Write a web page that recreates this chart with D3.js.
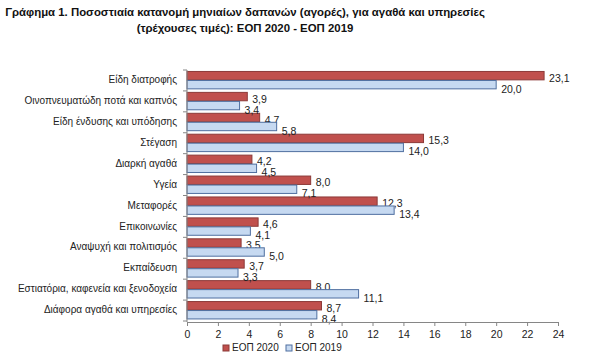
<!DOCTYPE html>
<html><head><meta charset="utf-8">
<script src="https://cdn.jsdelivr.net/npm/d3@7"></script>
<style>body{margin:0;background:#fff}svg{display:block;font-family:"Liberation Sans",Arial,sans-serif}</style>
</head><body>
<svg id="c" width="600" height="360"></svg>
<script>
const categories = ["Είδη διατροφής","Οινοπνευματώδη ποτά και καπνός","Είδη ένδυσης και υπόδησης","Στέγαση","Διαρκή αγαθά","Υγεία","Μεταφορές","Επικοινωνίες","Αναψυχή και πολιτισμός","Εκπαίδευση","Εστιατόρια, καφενεία  και ξενοδοχεία","Διάφορα αγαθά και υπηρεσίες"];
const seriesNames = ["ΕΟΠ 2020","ΕΟΠ 2019"];
const values2020 = [23.1,3.9,4.7,15.3,4.2,8.0,12.3,4.6,3.5,3.7,8.0,8.7];
const values2019 = [20.0,3.4,5.8,14.0,4.5,7.1,13.4,4.1,5.0,3.3,11.1,8.4];
const xTicks = [0,2,4,6,8,10,12,14,16,18,20,22,24];
const titleLines = ["Γράφημα 1. Ποσοστιαία κατανομή μηνιαίων δαπανών (αγορές), για αγαθά και υπηρεσίες","(τρέχουσες τιμές): ΕΟΠ 2020 - ΕΟΠ 2019"];

const fills = ["#C0504D","#C6D9F1"];
const strokes = ["#8C3A38","#4F6FA0"];
const svg = d3.select("#c");
const m = {left:187,right:558,top:70,bottom:321};
const x = d3.scaleLinear().domain([0,24]).range([m.left,m.right]);
const y = d3.scaleBand().domain(categories).range([m.top,m.bottom]).paddingInner(0.14).paddingOuter(0.07);
const yBand = d3.scaleBand().domain(seriesNames).range([0,y.bandwidth()]);

svg.selectAll("text.title").data(titleLines).join("text").attr("class","title")
  .attr("x",245).attr("y",(d,i)=>16+i*16).attr("text-anchor","middle")
  .attr("font-size",11.4).attr("font-weight","bold").attr("fill","#111").text(d=>d);

const series = [values2020, values2019];
series.forEach((vals,si)=>{
  const g = svg.append("g");
  g.selectAll("rect").data(vals).join("rect")
    .attr("x",x(0)).attr("y",(d,i)=>y(categories[i])+yBand(seriesNames[si]))
    .attr("width",d=>x(d)-x(0)).attr("height",yBand.bandwidth()-0.6)
    .attr("fill",fills[si]).attr("stroke",strokes[si]).attr("stroke-width",1);
  g.selectAll("text").data(vals).join("text")
    .attr("x",d=>x(d)+5)
    .attr("y",(d,i)=>y(categories[i])+yBand(seriesNames[si])+yBand.bandwidth()/2+ (si===0?3:5))
    .attr("font-size",10.5).attr("fill","#222").attr("dominant-baseline","middle")
    .text(d=>d3.format(".1f")(d).replace(".",","));
});

// y axis
const yAxisG = svg.append("g");
yAxisG.append("line").attr("x1",m.left).attr("x2",m.left).attr("y1",m.top).attr("y2",m.bottom+1).attr("stroke","#868686");
const bounds = categories.map(c=>y(c)-y.step()*y.paddingInner()/2).concat([m.bottom]);
yAxisG.selectAll("line.t").data(bounds).join("line").attr("class","t")
  .attr("x1",m.left-4).attr("x2",m.left).attr("y1",d=>d).attr("y2",d=>d).attr("stroke","#868686");
yAxisG.selectAll("text").data(categories).join("text")
  .attr("x",177).attr("y",d=>y(d)+y.bandwidth()/2).attr("dominant-baseline","middle")
  .attr("text-anchor","end").attr("font-size",10).attr("fill","#222").text(d=>d);

// x axis
const xAxis = d3.axisBottom(x).tickValues(xTicks).tickSize(4).tickPadding(5).tickFormat(d3.format("d"));
const xg = svg.append("g").attr("transform",`translate(0,${m.bottom+1})`).call(xAxis);
xg.select(".domain").attr("stroke","#868686");
xg.selectAll(".tick line").attr("stroke","#868686");
xg.selectAll(".tick text").attr("font-size",10.5).attr("fill","#222").attr("font-family","Liberation Sans, Arial");

// legend
const lg = svg.append("g");
const lx = [223,286];
seriesNames.forEach((s,i)=>{
  lg.append("rect").attr("x",lx[i]).attr("y",345).attr("width",6).attr("height",6)
    .attr("fill",fills[i]).attr("stroke",strokes[i]);
  lg.append("text").attr("x",lx[i]+9).attr("y",348.5).attr("dominant-baseline","middle")
    .attr("font-size",10).attr("fill","#222").text(s);
});
</script>
</body></html>
